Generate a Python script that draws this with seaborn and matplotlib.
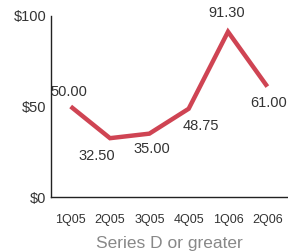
import pandas as pd
import seaborn as sns
import matplotlib.pyplot as plt

# data
quarters = ['1Q05', '2Q05', '3Q05', '4Q05', '1Q06', '2Q06']
values = [50.00, 32.50, 35.00, 48.75, 91.30, 61.00]
y_ticks = [0, 50, 100]
y_tick_labels = ['$0', '$50', '$100']

df = pd.DataFrame({'quarter': quarters, 'value': values})

sns.set_style('white')
plt.rcParams['font.family'] = ['Liberation Sans', 'DejaVu Sans']

fig = plt.figure(figsize=(2.88, 2.52), dpi=100)
ax = fig.add_axes([51/288, 55/252, 236/288, 181/252])

sns.lineplot(data=df, x='quarter', y='value', ax=ax, color='#cf4453', linewidth=3.2,
             solid_joinstyle='miter', solid_capstyle='butt', sort=False)

# label offsets in pixels (placed by hand to avoid the line)
offsets = [(-2, 14), (-13, -18), (3, -15), (12, -17), (-1, 19), (1, -16)]
for i, (v, off) in enumerate(zip(values, offsets)):
    ax.annotate(f'{v:.2f}', (i, v), xytext=off, textcoords='offset pixels',
                ha='center', va='center', fontsize=10.5, color='#333333')

ax.set_xlim(-0.5, 5.5)
ax.set_ylim(0, 100)
ax.set_yticks(y_ticks)
ax.set_yticklabels(y_tick_labels)
ax.tick_params(axis='y', length=0, pad=3.5, labelsize=10.5, labelcolor='#333333')
ax.tick_params(axis='x', length=0, pad=12.5, labelsize=9, labelcolor='#333333')
ax.set_xticks(range(len(quarters)))
ax.set_xticklabels(quarters)
ax.set_xticks([i + 0.5 for i in range(len(quarters) - 1)], minor=True)
ax.tick_params(axis='x', which='minor', length=3, direction='in', color='#dddddd')

ax.set_xlabel('Series D or greater', fontsize=12.5, color='#888888', labelpad=7)
ax.set_ylabel('')

sns.despine(ax=ax)
for s in ['left', 'bottom']:
    ax.spines[s].set_color('#222222')
    ax.spines[s].set_linewidth(1)

fig.savefig('out.png', dpi=100)
